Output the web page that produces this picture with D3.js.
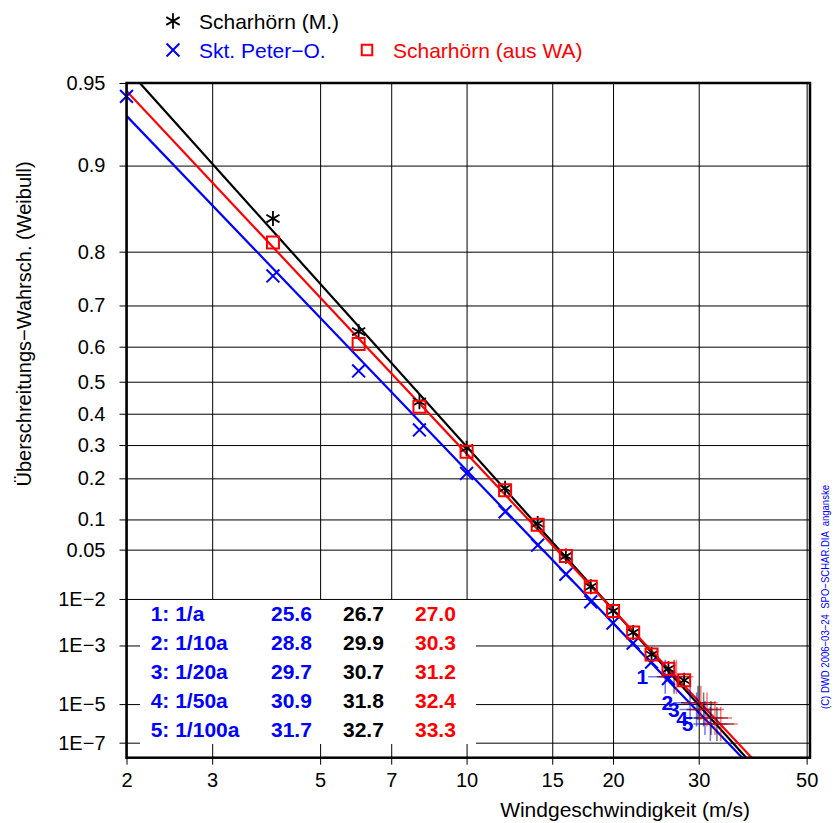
<!DOCTYPE html>
<html>
<head>
<meta charset="utf-8">
<script src="https://cdn.jsdelivr.net/npm/d3@7"></script>
<style>
body { margin: 0; background: #fff; }
svg text { font-family: "Liberation Sans", Arial, Helvetica, sans-serif; }
.grid line { stroke: #000; stroke-width: 1; }
.grid path { display: none; }
</style>
</head>
<body>
<script>
// Weibull plot of exceedance probability vs. wind speed

// observed points (wind speed m/s, exceedance probability)
var speedsM   = [4, 6, 8, 10, 12, 14, 16, 18, 20, 22, 24, 26, 28];
var probsM    = [0.846, 0.639, 0.438, 0.290, 0.173, 0.092, 0.042, 0.0159, 0.0060, 0.0021, 5.7e-4, 2.1e-4, 8.7e-5];
var speedsWA  = [4, 6, 8, 10, 12, 14, 16, 18, 20, 22, 24, 26, 28];
var probsWA   = [0.814, 0.607, 0.422, 0.279, 0.168, 0.0895, 0.042, 0.0159, 0.0060, 0.0021, 5.7e-4, 2.1e-4, 8.7e-5];
var speedsSPO = [2, 4, 6, 8, 10, 12, 14, 16, 18, 20, 22, 24, 26];
var probsSPO  = [0.944, 0.759, 0.532, 0.348, 0.214, 0.116, 0.056, 0.0243, 0.0089, 0.0034, 0.00115, 3.4e-4, 1.0e-4];

// fitted Weibull lines, end points [speed, probability]
var fitM   = [[2.13, 0.95], [37.6, 1e-8]];
var fitWA  = [[2, 0.9465], [38.6, 1e-8]];
var fitSPO = [[2, 0.934], [36.9, 1e-8]];

// return values
var returnLabels = ["1: 1/a", "2: 1/10a", "3: 1/20a", "4: 1/50a", "5: 1/100a"];
var returnProbs  = [1.14e-4, 1.14e-5, 5.71e-6, 2.28e-6, 1.14e-6];
var returnSPO    = [25.6, 28.8, 29.7, 30.9, 31.7];
var returnM      = [26.7, 29.9, 30.7, 31.8, 32.7];
var returnWA     = [27.0, 30.3, 31.2, 32.4, 33.3];

// axis ticks
var xTicks = [2, 3, 5, 7, 10, 15, 20, 30, 50];
var yTicks = [0.95, 0.9, 0.8, 0.7, 0.6, 0.5, 0.4, 0.3, 0.2, 0.1, 0.05, 1e-2, 1e-3, 1e-5, 1e-7];
var yTickLabels = ["0.95", "0.9", "0.8", "0.7", "0.6", "0.5", "0.4", "0.3", "0.2", "0.1", "0.05",
                   "1E\u22122", "1E\u22123", "1E\u22125", "1E\u22127"];

var margin = { top: 83, left: 126.5 },
    width = 683.5,
    height = 674.7;

function weib(p) { return Math.log(-Math.log(p)); }

var x = d3.scaleLog().domain([2, 50.8]).range([0, width]);
var yT = d3.scaleLinear().domain([weib(0.95), weib(1.05e-8)]).range([0, height]);
function y(p) { return yT(weib(p)); }

var svg = d3.select("body").append("svg")
    .attr("width", 834)
    .attr("height", 823);

var g = svg.append("g")
    .attr("transform", "translate(" + margin.left + "," + margin.top + ")");

// grid
g.append("g")
    .attr("class", "grid")
    .attr("transform", "translate(0," + height + ")")
    .call(d3.axisBottom(x).tickValues(xTicks).tickSize(-height).tickFormat(""));
g.append("g")
    .attr("class", "grid")
    .call(d3.axisLeft(yT).tickValues(yTicks.map(weib)).tickSize(-width).tickFormat(""));

// axes with outward ticks and labels
var xAxis = g.append("g")
    .attr("transform", "translate(0," + height + ")")
    .call(d3.axisBottom(x).tickValues(xTicks).tickSize(7).tickPadding(8).tickFormat(d3.format("d")));
var yAxis = g.append("g")
    .call(d3.axisLeft(yT).tickValues(yTicks.map(weib)).tickSize(7).tickPadding(14)
        .tickFormat(function (d, i) { return yTickLabels[i]; }));
[xAxis, yAxis].forEach(function (a) {
    a.select(".domain").remove();
    a.selectAll("line").attr("stroke", "#000").attr("stroke-width", 1);
    a.selectAll("text").attr("fill", "#000").style("font-size", "20px");
});

// white box for the return value table
g.append("rect")
    .attr("x", 13.5).attr("y", 517)
    .attr("width", 336).attr("height", 144)
    .attr("fill", "#fff");

// clip
g.append("clipPath").attr("id", "clip")
    .append("rect").attr("width", width).attr("height", height);

var line = d3.line()
    .x(function (d) { return x(d[0]); })
    .y(function (d) { return y(d[1]); });

var series = [
    { fit: fitSPO, v: speedsSPO, p: probsSPO, ret: returnSPO, color: "#0000ff", sym: d3.symbolTimes, size: 110, sw: 2 },
    { fit: fitM, v: speedsM, p: probsM, ret: returnM, color: "#000000", sym: d3.symbolAsterisk, size: 160, sw: 1.8 },
    { fit: fitWA, v: speedsWA, p: probsWA, ret: returnWA, color: "#ff0000", sym: d3.symbolSquare, size: 144, sw: 2 }
];

var plot = g.append("g").attr("clip-path", "url(#clip)");

series.forEach(function (s) {
    plot.append("path")
        .datum(s.fit)
        .attr("fill", "none")
        .attr("stroke", s.color)
        .attr("stroke-width", 2.2)
        .attr("d", line);
});

// return value crosshairs
series.forEach(function (s) {
    plot.selectAll(null)
        .data(s.ret)
        .enter().append("path")
        .attr("fill", "none")
        .attr("stroke", s.color)
        .attr("stroke-width", 1.5)
        .attr("stroke-opacity", 0.55)
        .attr("d", function (d, i) {
            var cx = x(d), cy = y(returnProbs[i]);
            return "M" + (cx - 17) + "," + cy + "H" + (cx + 17) + "M" + cx + "," + (cy - 17) + "V" + (cy + 17);
        });
});

// points
series.forEach(function (s) {
    g.selectAll(null)
        .data(s.v)
        .enter().append("path")
        .attr("transform", function (d, i) { return "translate(" + x(d) + "," + y(s.p[i]) + ")"; })
        .attr("d", d3.symbol().type(s.sym).size(s.size))
        .attr("fill", "none")
        .attr("stroke", s.color)
        .attr("stroke-width", s.sw);
});

// crosshair numbers
g.selectAll(null)
    .data(returnSPO)
    .enter().append("text")
    .attr("x", function (d) { return x(d) - 17; })
    .attr("y", function (d, i) { return y(returnProbs[i]); })
    .attr("dy", "0.36em")
    .attr("text-anchor", "end")
    .attr("fill", "#0000ff")
    .style("font-size", "21px")
    .style("font-weight", "bold")
    .text(function (d, i) { return i + 1; });

// frame
g.append("rect")
    .attr("width", width).attr("height", height)
    .attr("fill", "none")
    .attr("stroke", "#000")
    .attr("stroke-width", 2.5);

// table
var cols = [
    { vals: returnLabels, x: 150.7, color: "#0000ff" },
    { vals: returnSPO.map(function (d) { return d.toFixed(1); }), x: 271, color: "#0000ff" },
    { vals: returnM.map(function (d) { return d.toFixed(1); }), x: 343, color: "#000000" },
    { vals: returnWA.map(function (d) { return d.toFixed(1); }), x: 415, color: "#ff0000" }
];
cols.forEach(function (c) {
    svg.selectAll(null)
        .data(c.vals)
        .enter().append("text")
        .attr("x", c.x)
        .attr("y", function (d, i) { return 621 + i * 29; })
        .attr("fill", c.color)
        .style("font-size", "21px")
        .style("font-weight", "bold")
        .text(function (d) { return d; });
});

// axis titles
svg.append("text")
    .attr("x", 625)
    .attr("y", 817)
    .attr("text-anchor", "middle")
    .style("font-size", "21px")
    .text("Windgeschwindigkeit (m/s)");

svg.append("text")
    .attr("transform", "translate(31,324) rotate(-90)")
    .attr("text-anchor", "middle")
    .style("font-size", "20px")
    .text("\u00dcberschreitungs\u2212Wahrsch. (Weibull)");

// legend
var legend = [
    { label: "Scharh\u00f6rn (M.)", sym: d3.symbolAsterisk, size: 170, sw: 1.8, color: "#000000", x: 173, y: 21 },
    { label: "Skt. Peter\u2212O.", sym: d3.symbolTimes, size: 110, sw: 2, color: "#0000ff", x: 173, y: 50 },
    { label: "Scharh\u00f6rn (aus WA)", sym: d3.symbolSquare, size: 110, sw: 2, color: "#ff0000", x: 367, y: 50 }
];
legend.forEach(function (l) {
    svg.append("path")
        .attr("transform", "translate(" + l.x + "," + l.y + ")")
        .attr("d", d3.symbol().type(l.sym).size(l.size))
        .attr("fill", "none")
        .attr("stroke", l.color)
        .attr("stroke-width", l.sw);
    svg.append("text")
        .attr("x", l.x + 26)
        .attr("y", l.y + 6)
        .attr("dy", "0.1em")
        .attr("fill", l.color)
        .style("font-size", "21px")
        .text(l.label);
});

// side note
svg.append("text")
    .attr("transform", "translate(829,709) rotate(-90)")
    .attr("fill", "#0000ff")
    .style("font-size", "11.5px")
    .attr("textLength", 224)
    .attr("lengthAdjust", "spacingAndGlyphs")
    .attr("xml:space", "preserve")
    .style("white-space", "pre")
    .text("(C) DWD 2006\u221203\u221224  SPO\u2212SCHAR.DIA  anganske");
</script>
</body>
</html>
